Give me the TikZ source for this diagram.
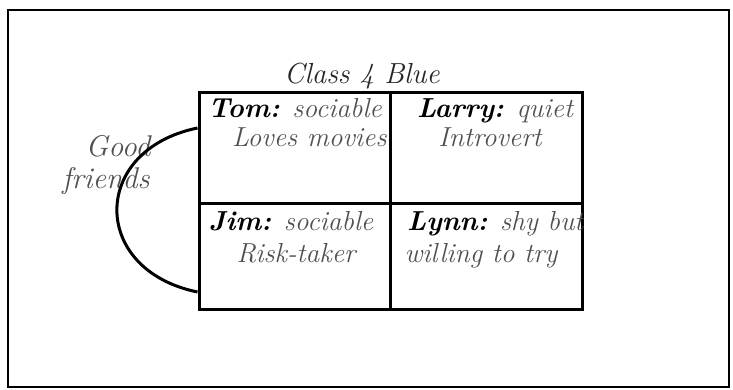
\documentclass[tikz,border=0pt]{standalone}
\usepackage{xcolor}
\definecolor{txtgray}{HTML}{505050}
\begin{document}
\begin{tikzpicture}[x=1pt,y=-1pt,
  cell/.style={draw=black,line width=3pt,inner sep=0pt,minimum height=#1},
  cell/.default=110pt,
  lbl/.style={anchor=base,inner sep=0pt,font=\fontsize{27.5}{32}\selectfont\itshape,text=txtgray},
  big/.style={font=\fontsize{#1}{#1}\selectfont\itshape}]
\useasboundingbox (0,0) rectangle (733,390);
\fill[white] (0,0) rectangle (733,390);
\node[draw=black,line width=2.5pt,minimum width=721pt,minimum height=377pt,inner sep=0pt] (frame) at (368.5,198.5) {};
% cells
\node[cell=110pt,minimum width=191pt] (tl) at (294.5,148) {};
\node[cell=110pt,minimum width=192pt] (tr) at (486,148) {};
\node[cell=106pt,minimum width=191pt] (bl) at (294.5,256) {};
\node[cell=106pt,minimum width=192pt] (br) at (486,256) {};
% title
\node[lbl,big=29,text=black!85] (title) at (362,84) {Class 4 Blue};
% cell texts (clipped to cells)
\begin{scope}
\clip (tl.north west) rectangle (tl.south east);
\node[lbl] (tom) at (295,118) {\textcolor{black}{\bfseries Tom:} sociable};
\node[lbl,anchor=base west] (movies) at (232,147) {Loves movies};
\end{scope}
\begin{scope}
\clip (tr.north west) rectangle (tr.south east);
\node[lbl] (larry) at (495,118) {\textcolor{black}{\bfseries Larry:} quiet};
\node[lbl] (intro) at (490,147) {Introvert};
\end{scope}
\begin{scope}
\clip (bl.north west) rectangle (bl.south east);
\node[lbl] (jim) at (291,230) {\textcolor{black}{\bfseries Jim:} sociable};
\node[lbl] (risk) at (296,262) {Risk-taker};
\end{scope}
\begin{scope}
\clip (br.north west) rectangle (br.south east);
\node[lbl,anchor=base west] (lynn) at (407,230) {\textcolor{black}{\bfseries Lynn:} shy but};
\node[lbl] (willing) at (481,262) {willing to try};
\end{scope}
% good friends
\node[lbl,big=30] (good) at (118,157) {Good};
\node[lbl,big=30] (friends) at (106,189) {friends};
% connector
\coordinate (a) at ([yshift=20pt]tl.west);
\coordinate (b) at ([yshift=-36pt]bl.west);
\draw[line width=3pt] (a) .. controls (90,150) and (90,270) .. (b);
\end{tikzpicture}
\end{document}
